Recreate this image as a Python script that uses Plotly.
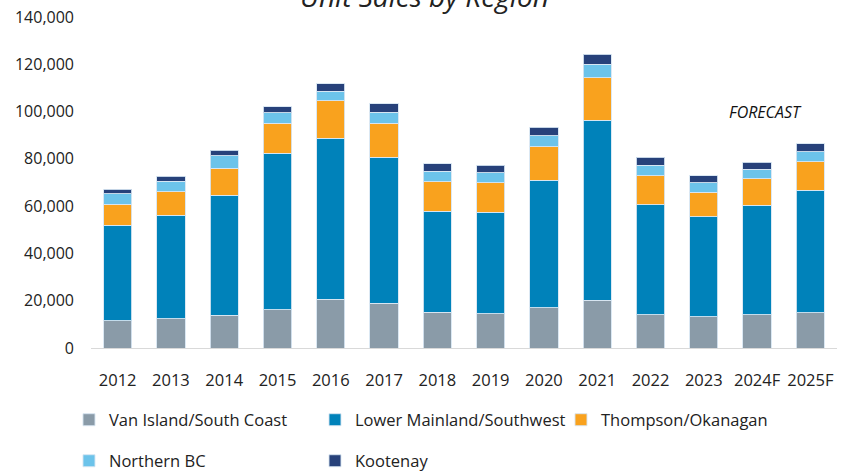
import plotly.graph_objects as go

years = ["2012", "2013", "2014", "2015", "2016", "2017", "2018", "2019", "2020",
         "2021", "2022", "2023", "2024F", "2025F"]
van_island = [11500, 12300, 13800, 16200, 20600, 18900, 15200, 14400, 17000, 20300, 14100, 13200, 14100, 14900]
lower_mainland = [40400, 43800, 50800, 66100, 68100, 61700, 42600, 43100, 53900, 76100, 46400, 42300, 46200, 51900]
thompson = [9000, 9900, 11500, 12700, 15900, 14500, 12500, 12400, 14200, 17900, 12400, 10300, 11200, 12000]
northern_bc = [4300, 4500, 5200, 4500, 3900, 4700, 4500, 4200, 4700, 5800, 4300, 4100, 4100, 4200]
kootenay = [2000, 2100, 2400, 2500, 3300, 3500, 3100, 3100, 3500, 4100, 3400, 3000, 2900, 3300]
y_ticks = [0, 20000, 40000, 60000, 80000, 100000, 120000, 140000]

series = [
    ("Van Island/South Coast", van_island, "#8A9BA8", "legend"),
    ("Lower Mainland/Southwest", lower_mainland, "#0082BA", "legend"),
    ("Thompson/Okanagan", thompson, "#F9A21E", "legend"),
    ("Northern BC", northern_bc, "#6CC3EA", "legend2"),
    ("Kootenay", kootenay, "#27417A", "legend2"),
]

fig = go.Figure()
for name, vals, color, lg in series:
    fig.add_trace(go.Bar(
        x=years, y=vals, name=name, legend=lg,
        marker=dict(color=color, line=dict(color="rgba(215,230,242,0.9)", width=1)),
    ))

font_family = "Open Sans"
legend_common = dict(
    orientation="h", xanchor="left", yanchor="middle", x=-0.0295,
    font=dict(family=font_family, size=16.5, color="#222"),
    entrywidth=201, entrywidthmode="pixels", itemwidth=30,
    bgcolor="rgba(0,0,0,0)", traceorder="normal",
)

fig.update_layout(
    width=841, height=472,
    margin=dict(l=91, r=4, t=17, b=124, autoexpand=False),
    barmode="stack", bargap=0.47,
    plot_bgcolor="white", paper_bgcolor="white",
    font=dict(family=font_family, size=16, color="#222"),
    xaxis=dict(showgrid=False, showline=True, linecolor="#D9D9D9", linewidth=1,
               ticks="", ticklabelstandoff=17, tickfont=dict(size=16.5), automargin=False),
    yaxis=dict(range=[0, 140000], tickvals=y_ticks, tickformat=",", showgrid=False,
               showline=False, zeroline=False, ticks="", ticklabelstandoff=16,
               tickfont=dict(size=16), automargin=False),
    legend=dict(**legend_common, y=-0.2175),
    legend2=dict(**legend_common, y=-0.3414),
    showlegend=True,
    annotations=[
        dict(text="<i>Unit Sales by Region</i>", xref="paper", yref="paper",
             x=0.447, y=1.0, yshift=21, xanchor="center", yanchor="middle",
             showarrow=False, font=dict(family="Open Sans", size=28, color="#222")),
        dict(text="<i>FORECAST</i>", xref="paper", yref="paper",
             x=0.9035, y=0.7145, xanchor="center", yanchor="middle",
             showarrow=False, font=dict(family=font_family, size=16, color="#111")),
    ],
)

fig.write_html("out.html", config={"displayModeBar": False},
               post_script="document.body.style.margin='0';document.body.style.overflow='hidden';")
